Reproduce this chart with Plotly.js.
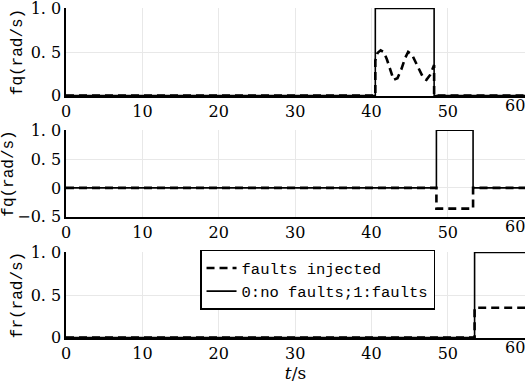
<!DOCTYPE html>
<html>
<head>
<meta charset="utf-8">
<script src="https://cdn.plot.ly/plotly-3.0.1.min.js"></script>
<style>html,body{margin:0;padding:0;background:#fff;}#chart{width:527px;height:387px;}</style>
</head>
<body>
<div id="chart"></div>
<script>
// Panel 1 (fq, top)
const t1Solid = [0, 40.5, 40.5, 48.2, 48.2, 61];
const v1Solid = [0, 0, 1, 1, 0, 0];
const t1Dash = [0, 40.5, 40.5, 40.8, 41.2, 41.6, 42.0, 42.4, 42.9, 43.4, 43.9, 44.4, 44.8, 45.3, 45.8, 46.3, 46.8, 47.2, 47.7, 48.2, 48.2, 61];
const v1Dash = [0, 0, 0.40, 0.49, 0.52, 0.50, 0.42, 0.30, 0.18, 0.20, 0.30, 0.43, 0.50, 0.47, 0.38, 0.28, 0.20, 0.18, 0.24, 0.35, 0, 0];
// Panel 2 (fq, middle)
const t2 = [0, 48.5, 48.5, 53.3, 53.3, 61];
const v2Solid = [0, 0, 1, 1, 0, 0];
const v2Dash = [0, 0, -0.36, -0.36, 0, 0];
// Panel 3 (fr, bottom)
const t3 = [0, 53.5, 53.5, 61];
const v3Solid = [0, 0, 1, 1];
const v3Dash = [0, 0, 0.35, 0.35];

const xTicks = [0, 10, 20, 30, 40, 50, 60];
const lastTick = 60;
const yTicksA = [0, 0.5, 1.0];
const yTextA = ['0', '0. 5', '1. 0'];
const yTicksB = [-0.5, 0, 0.5, 1.0];
const yTextB = ['\u22120. 5', '0', '0. 5', '1. 0'];
const legendNames = ['faults injected', '0:no faults;1:faults'];
const yTitles = ['fq(rad/s)', 'fq(rad/s)', 'fr(rad/s)'];

const serif = 'DejaVu Serif';
const mono = 'Liberation Mono';
const dashStyle = {color: '#000', width: 2.6, dash: '8px,5px'};
const solidStyle = {color: '#000', width: 1.6};

const traces = [
  {x: t1Dash, y: v1Dash, xaxis: 'x', yaxis: 'y', mode: 'lines', line: dashStyle, showlegend: false},
  {x: t1Solid, y: v1Solid, xaxis: 'x', yaxis: 'y', mode: 'lines', line: solidStyle, showlegend: false},
  {x: t2, y: v2Dash, xaxis: 'x2', yaxis: 'y2', mode: 'lines', line: dashStyle, showlegend: false},
  {x: t2, y: v2Solid, xaxis: 'x2', yaxis: 'y2', mode: 'lines', line: solidStyle, showlegend: false},
  {x: t3, y: v3Dash, xaxis: 'x3', yaxis: 'y3', mode: 'lines', line: dashStyle, name: legendNames[0]},
  {x: t3, y: v3Solid, xaxis: 'x3', yaxis: 'y3', mode: 'lines', line: solidStyle, name: legendNames[1]}
];

const tickFont = {family: serif, size: 16, color: '#000'};

function xax(anchor, withTitle) {
  const a = {
    anchor: anchor, domain: [0, 1], range: [0, 60.1],
    tickvals: xTicks, ticktext: xTicks.map(v => v === lastTick ? '' : String(v)),
    showgrid: true, gridcolor: '#e8e8e8', gridwidth: 1,
    showline: true, linecolor: '#000', linewidth: 1.6,
    zeroline: false, ticks: '', ticklabeloverflow: 'allow',
    tickfont: tickFont
  };
  if (withTitle) a.title = {text: '<i>t</i>/s', font: {family: serif, size: 17, color: '#000'}, standoff: 0};
  return a;
}
function yax(anchor, domain, range, vals, txt, title) {
  return {
    anchor: anchor, domain: domain, range: range,
    tickvals: vals, ticktext: txt,
    showgrid: true, gridcolor: '#e8e8e8', gridwidth: 1,
    showline: true, linecolor: '#000', linewidth: 1.6,
    zeroline: false, ticks: '', ticklabeloverflow: 'allow',
    tickfont: tickFont,
    title: {text: title, font: {family: mono, size: 16, color: '#000'}, standoff: 4}
  };
}

// "60" labels placed flush with the right edge so they stay inside the picture
const edgeLabels = ['y', 'y2', 'y3'].map((ya, i) => ({
  xref: 'x' + (i ? i + 1 : ''), yref: ya + ' domain', x: lastTick, y: 0,
  text: String(lastTick), showarrow: false, xanchor: 'right', yanchor: 'top',
  xshift: 3, yshift: 2, font: tickFont
}));

const layout = {
  width: 527, height: 387,
  margin: {l: 66, r: 2, t: 8, b: 49},
  paper_bgcolor: '#fff', plot_bgcolor: '#fff',
  font: {family: serif, color: '#000'},
  showlegend: true,
  legend: {
    x: 0.292, y: 0.267, xanchor: 'left', yanchor: 'top',
    bgcolor: '#fff', bordercolor: '#000', borderwidth: 1.5,
    font: {family: mono, size: 15.5, color: '#000'},
    tracegroupgap: 0, itemwidth: 30
  },
  annotations: edgeLabels,
  xaxis: xax('y', false),
  xaxis2: xax('y2', false),
  xaxis3: xax('y3', true),
  yaxis: yax('x', [0.7333, 1.0], [-0.005, 1.005], yTicksA, yTextA, yTitles[0]),
  yaxis2: yax('x2', [0.3667, 0.6303], [-0.505, 1.005], yTicksB, yTextB, yTitles[1]),
  yaxis3: yax('x3', [0, 0.2606], [-0.005, 1.005], yTicksA, yTextA, yTitles[2])
};

Plotly.newPlot('chart', traces, layout, {staticPlot: true, displayModeBar: false});
</script>
</body>
</html>
